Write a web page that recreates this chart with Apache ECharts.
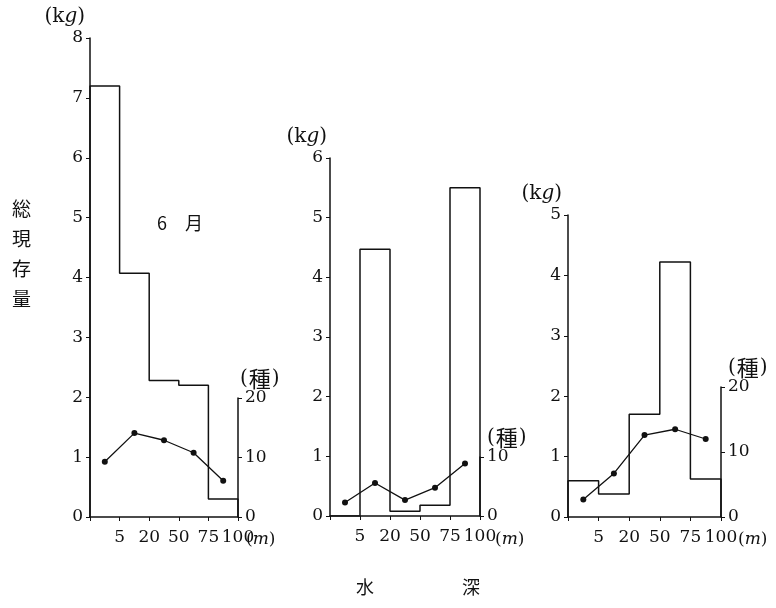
<!DOCTYPE html>
<html>
<head>
<meta charset="utf-8">
<script src="https://cdn.jsdelivr.net/npm/echarts@6/dist/echarts.min.js"></script>
<style>
  html, body { margin: 0; padding: 0; background: #fff; }
  #main { width: 776px; height: 608px; }
</style>
</head>
<body>
<div id="main"></div>
<script>
// depth bins 0-5, 5-20, 20-50, 50-75, 75-100 (m), drawn with equal widths
var depthLabels = ['', '5', '20', '50', '75', '100'];

// total standing stock (kg) per depth bin
var stockA = [7.2, 4.07, 2.28, 2.2, 0.3];
var stockB = [0, 4.47, 0.08, 0.18, 5.5];
var stockC = [0.6, 0.38, 1.7, 4.22, 0.63];

// number of species per depth bin
var speciesA = [9.3, 14.1, 12.9, 10.8, 6.1];
var speciesB = [2.3, 5.6, 2.7, 4.8, 8.9];
var speciesC = [2.7, 6.7, 12.6, 13.5, 12.0];

var kgMax = [8, 6, 5];
var spMax = [20, 10, 20];

var serif = 'DejaVu Serif';
var jp = 'Noto Sans CJK JP';

// panel frames (px)
var panels = [
    { left: 90, top: 38, width: 148, height: 479, spTop: 398, spH: 119 },
    { left: 330, top: 158, width: 150, height: 358, spTop: 457, spH: 59 },
    { left: 568, top: 215, width: 153, height: 302, spTop: 387, spH: 130 }
];
var kgPad = [5, 3, 6];
var spPad = [2, 7, 7];

function stepPoints(vals) {
    var pts = [[0, 0]];
    for (var i = 0; i < vals.length; i++) pts.push([i, vals[i]]);
    pts.push([vals.length, vals[vals.length - 1]]);
    pts.push([vals.length, 0]);
    return pts;
}
function centerPoints(vals) {
    return vals.map(function (v, i) { return [i + 0.5, v]; });
}

var stocks = [stockA, stockB, stockC];
var species = [speciesA, speciesB, speciesC];

var axisLine = { show: true, onZero: false, lineStyle: { color: '#111', width: 1.5 } };
var grids = [], xAxes = [], yAxes = [], series = [];

panels.forEach(function (p, k) {
    grids.push({ left: p.left, top: p.top, width: p.width, height: p.height });
    grids.push({ left: p.left, top: p.spTop, width: p.width, height: p.spH });
    xAxes.push({
        type: 'value', gridIndex: 2 * k, min: 0, max: 5, interval: 1,
        axisLine: axisLine,
        axisTick: { show: true, length: 4, lineStyle: { color: '#111' } },
        splitLine: { show: false },
        axisLabel: {
            margin: 12, color: '#111', fontFamily: serif, fontSize: 17,
            formatter: function (v) { return depthLabels[Math.round(v)]; }
        }
    });
    xAxes.push({ type: 'value', gridIndex: 2 * k + 1, min: 0, max: 5, show: false });
    yAxes.push({
        type: 'value', gridIndex: 2 * k, min: 0, max: kgMax[k], interval: 1,
        name: '(k{i|g})', nameLocation: 'end', nameGap: 11,
        nameTextStyle: {
            align: 'right', padding: [0, kgPad[k], 0, 0],
            color: '#111', fontFamily: serif, fontSize: 20,
            rich: { i: { fontStyle: 'italic', fontFamily: serif, fontSize: 20, color: '#111' } }
        },
        axisLine: axisLine,
        axisTick: { show: true, length: 4, lineStyle: { color: '#111' } },
        splitLine: { show: false },
        axisLabel: { margin: 7, color: '#111', fontFamily: serif, fontSize: 17 }
    });
    yAxes.push({
        type: 'value', gridIndex: 2 * k + 1, position: 'right',
        min: 0, max: spMax[k], interval: 10,
        name: '({s|種})', nameLocation: 'end', nameGap: 5,
        nameTextStyle: {
            align: 'left', padding: [0, 0, 0, spPad[k]],
            color: '#111', fontFamily: serif, fontSize: 20,
            rich: { s: { fontFamily: jp, fontSize: 22, color: '#111', padding: [0, 1, 0, 1] } }
        },
        axisLine: axisLine,
        axisTick: { show: true, length: 4, lineStyle: { color: '#111' } },
        splitLine: { show: false },
        axisLabel: { margin: 7, color: '#111', fontFamily: serif, fontSize: 17 }
    });
    series.push({
        type: 'line', step: 'end', xAxisIndex: 2 * k, yAxisIndex: 2 * k,
        data: stepPoints(stocks[k]), symbol: 'none',
        lineStyle: { color: '#111', width: 1.5 }, z: 3
    });
    series.push({
        type: 'line', xAxisIndex: 2 * k + 1, yAxisIndex: 2 * k + 1,
        data: centerPoints(species[k]), symbol: 'circle', symbolSize: 6,
        itemStyle: { color: '#111' },
        lineStyle: { color: '#111', width: 1.3 }, z: 4
    });
});

var mStyle = { fill: '#111', fontFamily: serif, fontSize: 17, rich: { i: { fontStyle: 'italic', fontFamily: serif, fontSize: 17, fill: '#111' } } };
function mText(x) {
    return { type: 'text', left: x, top: 531, style: Object.assign({ text: '({i|m})' }, mStyle) };
}

var chart = echarts.init(document.getElementById('main'));
chart.setOption({
    backgroundColor: '#fff',
    animation: false,
    grid: grids,
    xAxis: xAxes,
    yAxis: yAxes,
    series: series,
    graphic: [
        mText(246), mText(495), mText(738),
        { type: 'text', left: 12, top: 194, style: { text: '総\n現\n存\n量', fill: '#111', fontFamily: jp, fontSize: 19, lineHeight: 30 } },
        { type: 'text', left: 157, top: 214, style: { text: '6　月', fill: '#111', fontFamily: jp, fontSize: 18 } },
        { type: 'text', left: 356, top: 578, style: { text: '水', fill: '#111', fontFamily: jp, fontSize: 18 } },
        { type: 'text', left: 462, top: 578, style: { text: '深', fill: '#111', fontFamily: jp, fontSize: 18 } }
    ]
});
</script>
</body>
</html>
